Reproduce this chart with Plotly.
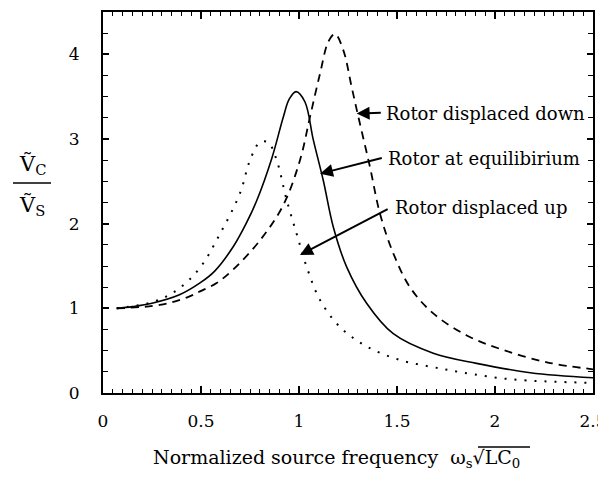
import plotly.graph_objects as go

# Rotor at equilibrium (solid)
eq_x = [0.07, 0.15, 0.25, 0.39, 0.495, 0.57, 0.665, 0.73, 0.784, 0.861, 0.92, 0.95, 0.985, 1.03, 1.073, 1.124, 1.175, 1.243, 1.345, 1.481, 1.685, 1.906, 2.18, 2.5]
eq_y = [1.00, 1.02, 1.06, 1.16, 1.30, 1.44, 1.73, 2.00, 2.27, 2.77, 3.26, 3.47, 3.56, 3.44, 2.99, 2.51, 1.96, 1.49, 1.06, 0.70, 0.47, 0.35, 0.24, 0.18]

# Rotor displaced down (dashed)
down_x = [0.07, 0.29, 0.43, 0.495, 0.58, 0.665, 0.80, 0.92, 1.005, 1.056, 1.107, 1.15, 1.184, 1.226, 1.269, 1.303, 1.362, 1.413, 1.481, 1.566, 1.685, 1.856, 2.04, 2.27, 2.5]
down_y = [1.00, 1.04, 1.13, 1.20, 1.30, 1.46, 1.80, 2.22, 2.75, 3.26, 3.77, 4.15, 4.24, 4.05, 3.61, 3.26, 2.67, 2.12, 1.65, 1.25, 0.94, 0.68, 0.51, 0.36, 0.28]

# Rotor displaced up (dotted)
up_x = [0.07, 0.26, 0.38, 0.495, 0.597, 0.699, 0.75, 0.80, 0.843, 0.886, 0.937, 0.988, 1.039, 1.107, 1.209, 1.345, 1.515, 1.72, 1.84, 2.09, 2.5]
up_y = [1.00, 1.08, 1.22, 1.48, 1.88, 2.36, 2.75, 2.96, 2.96, 2.75, 2.28, 1.88, 1.49, 1.10, 0.78, 0.55, 0.39, 0.29, 0.24, 0.16, 0.12]

labels = ["Rotor displaced down", "Rotor at equilibirium", "Rotor displaced up"]

X_RANGE = [0, 2.5]
Y_RANGE = [0, 4.5]

FONT = "DejaVu Serif"
fig = go.Figure()
fig.add_trace(go.Scatter(x=up_x, y=up_y, mode="lines", line=dict(color="black", width=2, dash="2px,8px", shape="spline", smoothing=1), name=labels[2]))
fig.add_trace(go.Scatter(x=eq_x, y=eq_y, mode="lines", line=dict(color="black", width=1.6, shape="spline", smoothing=1), name=labels[1]))
fig.add_trace(go.Scatter(x=down_x, y=down_y, mode="lines", line=dict(color="black", width=1.8, dash="8px,6px", shape="spline", smoothing=1), name=labels[0]))
# empty traces so that the overlay (tick-only) axes get drawn
for i in (2, 3, 4):
    fig.add_trace(go.Scatter(x=[], y=[], xaxis=f"x{i}", yaxis=f"y{i}", showlegend=False, hoverinfo="skip"))

tick_style = dict(showline=True, linecolor="black", linewidth=2, showgrid=False, zeroline=False,
                  ticks="inside", tickcolor="black", tickmode="linear", tick0=0)
fig.update_layout(
    xaxis=dict(range=X_RANGE, dtick=0.5, ticklen=7, tickwidth=1.5, ticklabelstandoff=12,
               ticklabeloverflow="allow", tickfont=dict(family=FONT, size=17, color="black"), **tick_style),
    yaxis=dict(range=Y_RANGE, dtick=1, ticklen=6, tickwidth=1.5, ticklabelstandoff=18,
               tickfont=dict(family=FONT, size=17, color="black"), **tick_style),
    # top / right frame with ticks
    xaxis2=dict(range=X_RANGE, dtick=0.05, ticklen=4, tickwidth=1.2, overlaying="x", side="top", anchor="y2",
                showticklabels=False, **tick_style),
    yaxis2=dict(range=Y_RANGE, dtick=0.25, ticklen=5, tickwidth=1.2, overlaying="y", side="right", anchor="x2",
                showticklabels=False, **tick_style),
    # bottom / left minor ticks
    xaxis3=dict(range=X_RANGE, dtick=0.05, ticklen=4, tickwidth=1.2, overlaying="x", side="bottom", anchor="y3",
                showticklabels=False, **tick_style),
    yaxis3=dict(range=Y_RANGE, dtick=0.25, ticklen=5, tickwidth=1.2, overlaying="y", side="left", anchor="x3",
                showticklabels=False, **tick_style),
    # top major ticks
    xaxis4=dict(range=X_RANGE, dtick=0.5, ticklen=7, tickwidth=1.5, overlaying="x", side="top", anchor="y4",
                showticklabels=False, **tick_style),
    yaxis4=dict(range=Y_RANGE, dtick=1, ticklen=6, tickwidth=1.5, overlaying="y", side="right", anchor="x4",
                showticklabels=False, **tick_style),
)

# curve labels with arrows
label_pos = [(1.434, 3.30), (1.444, 2.77), (1.48, 2.19)]
arrow_heads = [(1.294, 3.30), (1.107, 2.59), (1.005, 1.63)]
arrow_tails = [(1.425, 3.31), (1.43, 2.78), (1.46, 2.18)]
for txt, (lx, ly), (hx, hy), (tx, ty) in zip(labels, label_pos, arrow_heads, arrow_tails):
    fig.add_annotation(x=lx, y=ly, text=txt, showarrow=False, xanchor="left", yanchor="middle",
                       font=dict(family=FONT, size=18, color="black"))
    fig.add_annotation(x=hx, y=hy, ax=tx, ay=ty, axref="x", ayref="y", text="", showarrow=True,
                       arrowhead=2, arrowsize=1.3, arrowwidth=2, arrowcolor="black")

# x axis title
fig.add_annotation(xref="paper", yref="paper", x=(336 - 103) / 490, y=(393 - 458) / 381,
                   text="Normalized source frequency  ω<sub>s</sub>√LC<sub>0</sub>", showarrow=False,
                   xanchor="center", yanchor="middle", font=dict(family=FONT, size=19, color="black"))
fig.add_shape(type="line", xref="paper", yref="paper", x0=(478 - 103) / 490, x1=(530 - 103) / 490,
              y0=(393 - 447) / 381, y1=(393 - 447) / 381, line=dict(color="black", width=1.5))

# y axis title as a fraction
fig.add_annotation(xref="paper", yref="paper", x=(32 - 103) / 490, y=(393 - 165) / 381,
                   text="Ṽ<sub>C</sub>", showarrow=False, xanchor="center", yanchor="middle",
                   font=dict(family=FONT, size=21, color="black"))
fig.add_annotation(xref="paper", yref="paper", x=(32 - 103) / 490, y=(393 - 206) / 381,
                   text="Ṽ<sub>S</sub>", showarrow=False, xanchor="center", yanchor="middle",
                   font=dict(family=FONT, size=21, color="black"))
fig.add_shape(type="line", xref="paper", yref="paper", x0=(13 - 103) / 490, x1=(51 - 103) / 490,
              y0=(393 - 183) / 381, y1=(393 - 183) / 381, line=dict(color="black", width=1.5))

# page body adds an 8px offset; plot area lands at x 103-593, y 12-393 of the window
fig.update_layout(
    width=606, height=472, showlegend=False,
    margin=dict(l=95, r=21, t=4, b=87),
    plot_bgcolor="white", paper_bgcolor="white",
)
fig.write_html("out.html")
